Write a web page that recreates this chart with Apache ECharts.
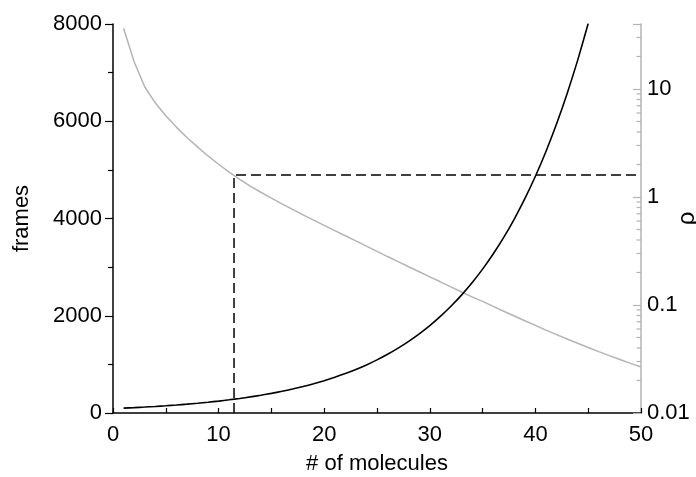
<!DOCTYPE html>
<html><head><meta charset="utf-8">
<script src="https://cdn.jsdelivr.net/npm/echarts@6/dist/echarts.min.js"></script>
<style>html,body{margin:0;padding:0;background:#fff}#c{width:696px;height:477px}</style>
</head><body><div id="c"></div>
<script>
// x values (# of molecules)
const molecules = [1,2,3,4,5,6,7,8,9,10,11,12,13,14,15,16,17,18,19,20,21,22,23,24,25,26,27,28,29,30,31,32,33,34,35,36,37,38,39,40,41,42,43,44,45,46,47,48,49,50];
// frames (left axis), black curve, read for molecules 1..45
const frames = [100,110,122,135,149,164,182,201,222,245,271,299,331,365,404,446,493,544,601,664,734,811,896,989,1093,1207,1334,1473,1628,1798,1987,2195,2424,2678,2959,3269,3611,3989,4407,4869,5379,5942,6564,7252,8011];
// rho (right log axis), grey curve, molecules 1..50
const rho = [36.5,17.9,10.5,7.45,5.65,4.44,3.56,2.91,2.40,2.01,1.70,1.46,1.26,1.107,0.975,0.863,0.767,0.684,0.611,0.546,0.489,0.438,0.392,0.351,0.314,0.281,0.252,0.226,0.203,0.182,0.164,0.147,0.132,0.119,0.108,0.0970,0.0875,0.0791,0.0714,0.0647,0.0586,0.0532,0.0484,0.0442,0.0404,0.0370,0.0340,0.0313,0.0288,0.0267];
// dashed guide line
const dashX = [11.46, 11.46, 50];
const dashRho = [0.01, 1.6, 1.6];
// minor tick values of the log axis
const rhoMinorTicks = [0.02,0.03,0.04,0.05,0.06,0.07,0.08,0.09,0.2,0.3,0.4,0.5,0.6,0.7,0.8,0.9,2,3,4,5,6,7,8,9,20,30];
const rhoMajorLabels = [0.01, 0.1, 1, 10];

const FONT = 'Liberation Sans, Arial, sans-serif';
const GREY = '#b4b4b4';
const chart = echarts.init(document.getElementById('c'), null, {renderer: 'canvas'});
chart.setOption({
  animation: false,
  backgroundColor: '#fff',
  grid: {left: 113, right: 55, top: 24, bottom: 64, containLabel: false, outerBoundsMode: 'none'},
  xAxis: {
    type: 'value', min: 0, max: 50, interval: 10,
    name: '# of molecules', nameLocation: 'middle', nameGap: 40, nameMoveOverlap: false,
    nameTextStyle: {fontFamily: FONT, fontSize: 22, color: '#000'},
    axisLine: {show: true, onZero: false, lineStyle: {color: '#000', width: 1.5}},
    axisTick: {show: true, inside: true, length: 5, lineStyle: {color: '#000', width: 1.2}},
    minorTick: {show: true, splitNumber: 2, length: 5, lineStyle: {color: '#000', width: 1.2}},
    axisLabel: {fontFamily: FONT, fontSize: 22, color: '#000', margin: 11, formatter: v => String(v)},
    splitLine: {show: false}
  },
  yAxis: [{
    type: 'value', min: 0, max: 8000, interval: 2000, position: 'left',
    name: 'frames', nameLocation: 'middle', nameGap: 80, nameMoveOverlap: false,
    nameTextStyle: {fontFamily: FONT, fontSize: 22, color: '#000'},
    axisLine: {show: true, lineStyle: {color: '#000', width: 1.5}},
    axisTick: {show: true, inside: false, length: 8, lineStyle: {color: '#000', width: 1.2}},
    minorTick: {show: true, splitNumber: 2, length: 5, lineStyle: {color: '#000', width: 1.2}},
    axisLabel: {fontFamily: FONT, fontSize: 22, color: '#000', margin: 11, formatter: v => String(v)},
    splitLine: {show: false}
  }, {
    type: 'log', logBase: 10, min: 0.01, max: 40, position: 'right',
    name: 'ρ', nameLocation: 'middle', nameGap: 34, nameRotate: 90, nameMoveOverlap: false,
    nameTextStyle: {fontFamily: FONT, fontSize: 24, color: '#000'},
    axisLine: {show: true, lineStyle: {color: GREY, width: 1.5}},
    axisTick: {show: true, inside: true, length: 8, lineStyle: {color: GREY, width: 1.2}},
    axisLabel: {fontFamily: FONT, fontSize: 22, color: '#000', margin: 6,
      formatter: v => rhoMajorLabels.some(m => Math.abs(m - v) / m < 1e-6) ? String(v) : ''},
    splitLine: {show: false}
  }],
  series: [{
    type: 'line', xAxisIndex: 0, yAxisIndex: 1, showSymbol: false, silent: true,
    data: molecules.map((x, i) => [x, rho[i]]),
    lineStyle: {color: GREY, width: 1.5}, z: 2
  }, {
    type: 'line', xAxisIndex: 0, yAxisIndex: 0, showSymbol: false, silent: true, smooth: 0.2,
    data: frames.map((f, i) => [molecules[i], f]),
    lineStyle: {color: '#000', width: 1.6}, z: 3
  }, {
    type: 'line', xAxisIndex: 0, yAxisIndex: 1, showSymbol: false, silent: true,
    data: dashX.map((x, i) => [x, dashRho[i]]),
    lineStyle: {color: '#000', width: 1.5, type: [10, 5]}, z: 4
  }, {
    type: 'custom', xAxisIndex: 0, yAxisIndex: 1, silent: true, clip: false, z: 5,
    data: rhoMinorTicks.map(v => [50, v]),
    renderItem: (params, api) => {
      const p = api.coord([api.value(0), api.value(1)]);
      return {type: 'line', shape: {x1: p[0] - 4.5, y1: p[1], x2: p[0], y2: p[1]},
        style: {stroke: GREY, lineWidth: 1.2}};
    }
  }]
});
</script>
</body></html>
